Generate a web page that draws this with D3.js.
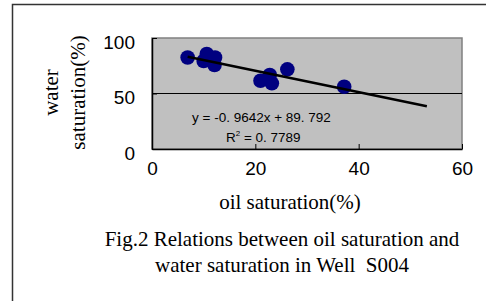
<!DOCTYPE html>
<html>
<head>
<meta charset="utf-8">
<script src="https://cdn.jsdelivr.net/npm/d3@7"></script>
<style>
  body { margin: 0; background: #fff; }
</style>
</head>
<body>
<div id="chart"></div>
<script>
// ===== DATA =====
const oilSat   = [6.9, 10.6, 10.0, 12.2, 12.1, 21.0, 22.8, 23.2, 26.2, 37.2];
const waterSat = [82.4, 85.6, 79.3, 82.4, 75.7, 61.5, 66.7, 59.2, 71.8, 56.1];
const xTicks = [0, 20, 40, 60];
const yTicks = [0, 50, 100];
const slope = -0.9642;
const intercept = 89.792;
const trendRange = [6.9, 53.2];
const eqText = "y = -0. 9642x + 89. 792";
const r2Text = " = 0. 7789";

// ===== SIZE =====
const width = 486;
const height = 301;
const margin = { top: 38, right: 24, bottom: 152, left: 152 };
const innerW = 462 - margin.left;
const innerH = 149 - margin.top;

const svg = d3.select("#chart")
  .append("svg")
  .attr("width", width)
  .attr("height", height);

// outer frame
svg.append("rect")
  .attr("x", 12.5).attr("y", 4.5)
  .attr("width", 500).attr("height", 400)
  .attr("fill", "none")
  .attr("stroke", "#333")
  .attr("stroke-width", 1.5);

const g = svg.append("g")
  .attr("transform", `translate(${margin.left},${margin.top})`);

const x = d3.scaleLinear().domain([0, 60]).range([0, innerW]);
const y = d3.scaleLinear().domain([0, 100]).range([innerH, 0]);

// plot area
g.append("rect")
  .attr("width", innerW)
  .attr("height", innerH)
  .attr("fill", "#c0c0c0")
  .attr("stroke", "#808080")
  .attr("stroke-width", 1.5);

// gridline
g.selectAll(".grid")
  .data(yTicks.filter(d => d > 0 && d < 100))
  .join("line")
  .attr("class", "grid")
  .attr("x1", 0).attr("x2", innerW)
  .attr("y1", d => y(d)).attr("y2", d => y(d))
  .attr("stroke", "#000")
  .attr("stroke-width", 1);

// axes
const xAxis = g.append("g")
  .attr("transform", `translate(0,${innerH})`)
  .call(d3.axisBottom(x).tickValues(xTicks).tickSizeInner(-5).tickSizeOuter(0).tickPadding(13));
const yAxis = g.append("g")
  .call(d3.axisLeft(y).tickValues(yTicks).tickSizeInner(-5).tickSizeOuter(0).tickPadding(17));

[xAxis, yAxis].forEach(a => {
  a.select(".domain").attr("stroke", "#000").attr("stroke-width", 1.5);
  a.selectAll(".tick line").attr("stroke", "#000");
  a.selectAll(".tick text")
    .attr("fill", "#000")
    .style("font-family", "'Liberation Sans', Arial, sans-serif")
    .style("font-size", "19px");
});
xAxis.selectAll(".tick text").attr("dy", "0.71em");
yAxis.selectAll(".tick text").attr("dy", "0.55em");

// points
g.selectAll("circle.pt")
  .data(oilSat.map((d, i) => ({ x: d, y: waterSat[i] })))
  .join("circle")
  .attr("class", "pt")
  .attr("cx", d => x(d.x))
  .attr("cy", d => y(d.y))
  .attr("r", 7.3)
  .attr("fill", "#000080");

// trendline
g.append("line")
  .attr("x1", x(trendRange[0])).attr("y1", y(slope * trendRange[0] + intercept))
  .attr("x2", x(trendRange[1])).attr("y2", y(slope * trendRange[1] + intercept))
  .attr("stroke", "#000")
  .attr("stroke-width", 2.5);

// equation
const eqFont = "'Liberation Sans', Arial, sans-serif";
svg.append("text")
  .attr("x", 192).attr("y", 121.5)
  .style("font-family", eqFont).style("font-size", "13.5px")
  .text(eqText);

const r2 = svg.append("text")
  .attr("x", 226).attr("y", 142)
  .style("font-family", eqFont).style("font-size", "13.5px");
r2.append("tspan").text("R");
r2.append("tspan").attr("dy", -6).style("font-size", "8px").text("2");
r2.append("tspan").attr("dy", 6).text(r2Text);

// axis titles
const serif = "'Liberation Serif', 'Times New Roman', serif";
svg.append("text")
  .attr("x", 290).attr("y", 209)
  .attr("text-anchor", "middle")
  .style("font-family", serif).style("font-size", "21px")
  .text("oil saturation(%)");

const yTitle = svg.append("text")
  .attr("transform", "translate(0,92.5) rotate(-90)")
  .attr("text-anchor", "middle")
  .style("font-family", serif).style("font-size", "21px");
yTitle.append("tspan").attr("x", 0).attr("y", 58).text("water");
yTitle.append("tspan").attr("x", 0).attr("y", 85).text("saturation(%)");

// caption
svg.append("text")
  .attr("x", 282).attr("y", 245.5)
  .attr("text-anchor", "middle")
  .style("font-family", serif).style("font-size", "21px")
  .text("Fig.2 Relations between oil saturation and");
svg.append("text")
  .attr("x", 282).attr("y", 272)
  .attr("text-anchor", "middle")
  .style("font-family", serif).style("font-size", "21px")
  .text("water saturation in Well  S004")
  .style("white-space", "pre");
</script>
</body>
</html>
